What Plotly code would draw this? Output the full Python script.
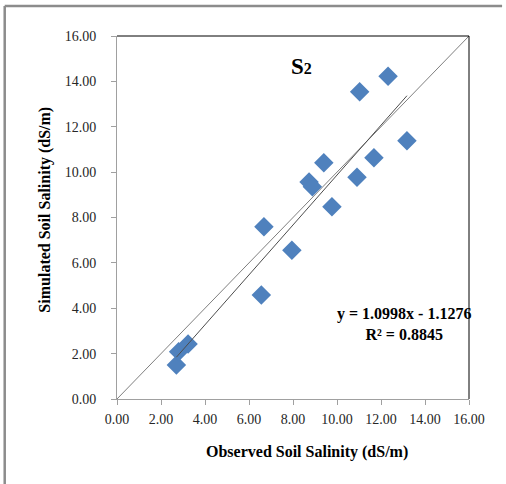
import plotly.graph_objects as go

observed = [2.70, 2.80, 3.23, 6.56, 6.68, 7.95, 8.73, 8.88, 9.40, 9.77, 10.91, 11.03, 11.68, 12.32, 13.18]
simulated = [1.50, 2.08, 2.42, 4.58, 7.59, 6.56, 9.57, 9.35, 10.41, 8.47, 9.77, 13.54, 10.63, 14.23, 11.38]
slope, intercept = 1.0998, -1.1276
r2 = 0.8845
tick_vals = [0, 2, 4, 6, 8, 10, 12, 14, 16]
tick_text = ["%.2f" % v for v in tick_vals]

fx = [min(observed), max(observed)]
fy = [slope * v + intercept for v in fx]

serif = "'Times New Roman', 'Liberation Serif', 'DejaVu Serif', serif"

fig = go.Figure()
fig.add_trace(go.Scatter(x=[0, 16], y=[0, 16], mode="lines",
                         line=dict(color="#7f7f7f", width=1), hoverinfo="skip"))
fig.add_trace(go.Scatter(x=observed, y=simulated, mode="markers",
                         marker=dict(symbol="diamond", size=15, color="#4F81BD",
                                     line=dict(width=0))))
fig.add_trace(go.Scatter(x=fx, y=fy, mode="lines",
                         line=dict(color="#4d4d4d", width=1), hoverinfo="skip"))

axis_common = dict(range=[0, 16], tickvals=tick_vals, ticktext=tick_text,
                   showgrid=False, zeroline=False, showline=True,
                   linecolor="#a0a0a0", linewidth=1, ticks="outside",
                   ticklen=5, tickcolor="#a0a0a0",
                   tickfont=dict(family=serif, size=14, color="#262626"))

fig.update_layout(
    width=506, height=484,
    margin=dict(l=117, r=37, t=36, b=85),
    paper_bgcolor="white", plot_bgcolor="white",
    showlegend=False,
    xaxis=dict(**axis_common, ticklabelstandoff=2),
    yaxis=dict(**axis_common, ticklabelstandoff=12),
    shapes=[
        dict(type="line", xref="paper", yref="paper", x0=0, x1=1, y0=1, y1=1,
             line=dict(color="black", width=1)),
        dict(type="line", xref="paper", yref="paper", x0=1, x1=1, y0=0, y1=1,
             line=dict(color="black", width=1)),
        dict(type="line", xref="paper", yref="paper", x0=-0.319, x1=1.094,
             y0=1.0826, y1=1.0826, line=dict(color="#8c8c8c", width=2.5)),
        dict(type="line", xref="paper", yref="paper", x0=-0.319, x1=-0.319,
             y0=1.0826, y1=-0.25, line=dict(color="#8c8c8c", width=2.5)),
    ],
    annotations=[
        dict(x=(307.5 - 117.3) / 351.7, y=(399 - 451.7) / 363, xref="paper", yref="paper",
             text="<b>Observed Soil Salinity (dS/m)</b>", showarrow=False,
             font=dict(family=serif, size=16, color="black"), xanchor="center", yanchor="middle"),
        dict(x=(45 - 117.3) / 351.7, y=(399 - 210) / 363, xref="paper", yref="paper",
             text="<b>Simulated Soil Salinity (dS/m)</b>", showarrow=False, textangle=-90,
             font=dict(family=serif, size=16, color="black"), xanchor="center", yanchor="middle"),
        dict(x=(301.7 - 117.3) / 351.7, y=(399 - 66.7) / 363, xref="paper", yref="paper",
             text="<b>S<span style='font-size:16px'>2</span></b>", showarrow=False,
             font=dict(family=serif, size=23, color="black"), xanchor="center", yanchor="middle"),
        dict(x=(404 - 117.3) / 351.7, y=(399 - 324) / 363, xref="paper", yref="paper",
             text="<b>y = %.4fx - %.4f<br>R² = %.4f</b>" % (slope, -intercept, r2),
             showarrow=False, align="center",
             font=dict(family=serif, size=16, color="black"), xanchor="center", yanchor="middle"),
    ],
)

fig.write_html("out.html")
